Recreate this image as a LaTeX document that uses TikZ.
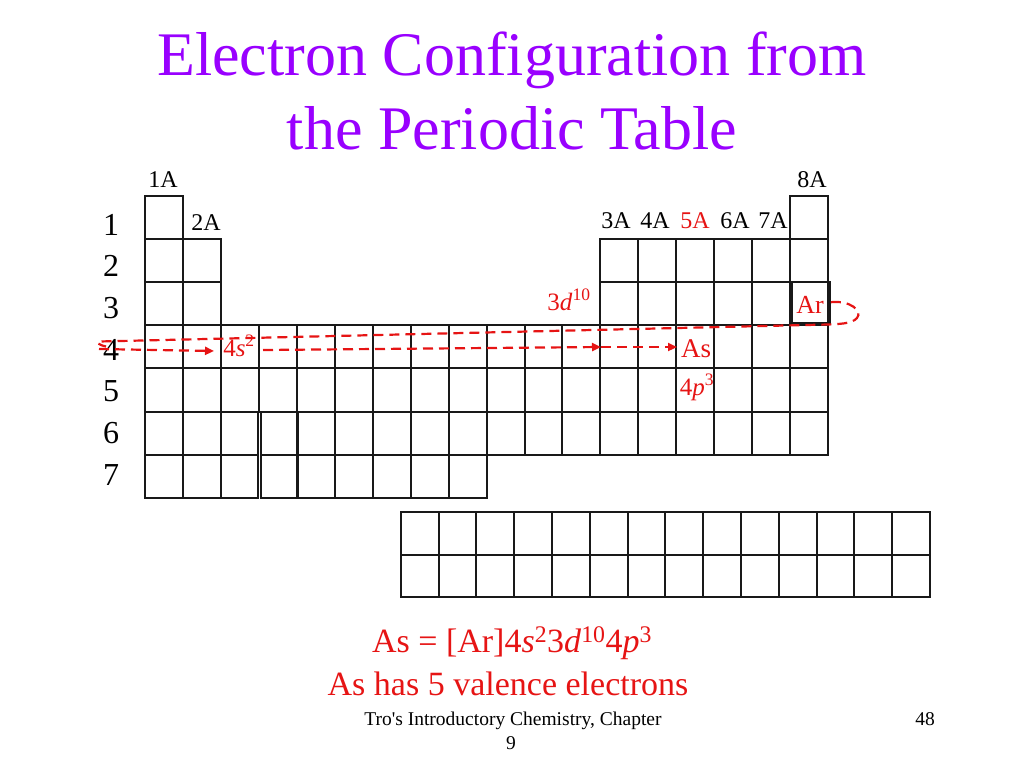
\documentclass[tikz,border=0pt]{standalone}
\usepackage{fontspec}
\setmainfont{Liberation Serif}
\usetikzlibrary{arrows.meta}
\definecolor{titlepurple}{RGB}{153,0,255}
\definecolor{slred}{RGB}{230,20,20}
\definecolor{gridc}{RGB}{25,25,25}
\begin{document}
\begin{tikzpicture}[x=1pt,y=-1pt,
  cell/.style={draw=gridc, line width=2pt, minimum width=37.95pt, minimum height=43.1pt, inner sep=0pt, outer sep=0pt},
  fcell/.style={cell, minimum width=37.8pt, minimum height=42.8pt},
  grp/.style={font=\fontsize{24}{28}\selectfont, inner sep=0pt, anchor=base},
  rowlab/.style={font=\fontsize{32}{36}\selectfont, inner sep=0pt, anchor=base},
  redlab/.style={text=slred, font=\fontsize{25}{28}\selectfont, inner sep=0pt, anchor=base},
  redbig/.style={text=slred, font=\fontsize{34}{40}\selectfont, inner sep=0pt, anchor=base},
  titletext/.style={text=titlepurple, font=\fontsize{62}{73}\selectfont, inner sep=0pt, anchor=base},
  foot/.style={font=\fontsize{19.5}{22}\selectfont, inner sep=0pt, anchor=base},
  redash/.style={draw=slred, line width=2.2pt, dash pattern=on 10pt off 6pt},
  redarrow/.style={redash, -{Triangle[length=9pt,width=8pt]}}
]
\useasboundingbox (0,0) rectangle (1024,768);

% title
\node[titletext] (t1) at (512,75) {Electron Configuration from};
\node[titletext] (t2) at (512,149) {the Periodic Table};

% main table cells
\foreach \r/\cl in {1/{1,18},2/{1,2,13,14,15,16,17,18},3/{1,2,13,14,15,16,17,18},4/{1,...,18},5/{1,...,18},6/{1,2,5,6,...,18},7/{1,2,5,6,7,8,9}}{
  \foreach \c in \cl {
    \node[cell] (c\r-\c) at ({145+37.95*(\c-0.5)},{196+43.1*(\r-0.5)}) {};
  }
}
% narrower cells next to the gap in rows 6 and 7
\foreach \r in {6,7}{
  \node[cell, minimum width=36.6pt] (c\r-3) at (239.2,{196+43.1*(\r-0.5)}) {};
  \node[cell, minimum width=37.1pt] (c\r-4) at (279.25,{196+43.1*(\r-0.5)}) {};
}

% f-block rows
\foreach \r in {1,2}{
  \foreach \c in {1,...,14}{
    \node[fcell] (f\r-\c) at ({400.7+37.8*(\c-0.5)},{511.7+42.8*(\r-0.5)}) {};
  }
}

% group labels
\node[grp] (g1) at (163,187) {1A};
\node[grp] (g2) at (206,230) {2A};
\node[grp] (g3) at (616,228) {3A};
\node[grp] (g4) at (655,228) {4A};
\node[grp, text=slred] (g5) at (695,228) {5A};
\node[grp] (g6) at (735,228) {6A};
\node[grp] (g7) at (773,228) {7A};
\node[grp] (g8) at (812,187) {8A};

% period labels
\foreach \r in {1,...,7}{
  \node[rowlab] (p\r) at (111,{235+41.7*(\r-1)}) {\r};
}

% Ar box
\node[draw=gridc, line width=1.6pt, minimum width=38.3pt, minimum height=41pt, inner sep=0pt] (ar) at (810.9,302.2) {};
\node[redlab, font=\fontsize{26}{30}\selectfont] (arl) at (810,313) {Ar};

% red labels
\node[redlab] (l4s) at (239,356) {4\textit{s}\textsuperscript{2}};
\node[redlab] (l3d) at (569,310) {3\textit{d}\textsuperscript{10}};
\node[redlab, font=\fontsize{27}{30}\selectfont] (las) at (696,357) {As};
\node[redlab] (l4p) at (697,395) {4\textit{p}\textsuperscript{3}};

% lasso round the row up to Ar
\coordinate (lasL) at (99,341.5);
\coordinate (lasH) at (106,346.5);
\coordinate (lasB) at (828,324.5);
\draw[redash] (ar.east) .. controls (850,300) and (863,311) .. (857,318)
  .. controls (852,324) and (838,324) .. (lasB) -- (lasL)
  .. controls (95,342) and (99,345) .. (lasH);

% arrows along period 4
\coordinate (s0) at (99,349);
\coordinate (s1) at (214,351);
\coordinate (s2) at (263,350);
\coordinate (m) at (601,347);
\coordinate (e) at (677,347);
\draw[redarrow] (s0) -- (s1);
\draw[redarrow] (s2) -- (m);
\draw[redarrow] (m) -- (e);

% bottom text
\node[redbig] (eq) at (512,652) {As = [Ar]4\textit{s}\textsuperscript{2}3\textit{d}\textsuperscript{10}4\textit{p}\textsuperscript{3}};
\node[redbig] (val) at (508,695) {As has 5 valence electrons};

% footer
\node[foot] (ft1) at (513,725) {Tro\textquotesingle s Introductory Chemistry, Chapter};
\node[foot] (ft2) at (511,749) {9};
\node[foot] (pg) at (925,725) {48};
\end{tikzpicture}
\end{document}
